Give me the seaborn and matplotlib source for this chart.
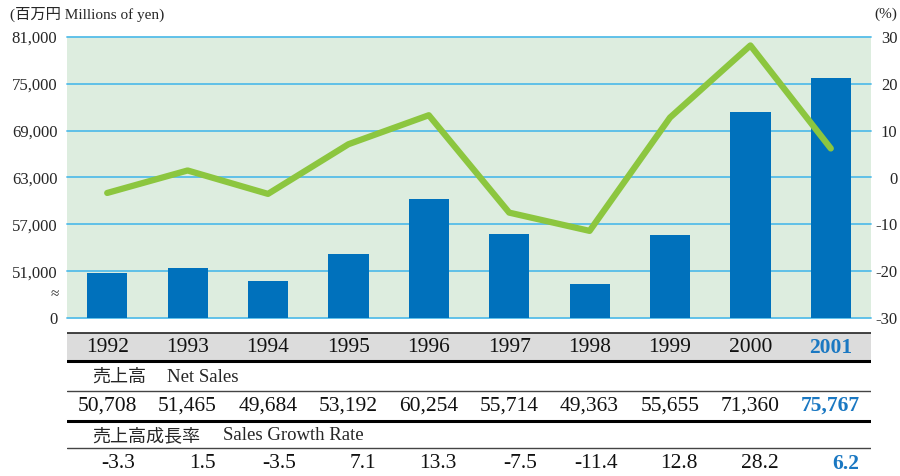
import matplotlib
matplotlib.use("Agg")
import matplotlib.pyplot as plt
import seaborn as sns
import pandas as pd

# データ
years = ["1992", "1993", "1994", "1995", "1996", "1997", "1998", "1999", "2000", "2001"]
net_sales = [50708, 51465, 49684, 53192, 60254, 55714, 49363, 55655, 71360, 75767]
growth = [-3.3, 1.5, -3.5, 7.1, 13.3, -7.5, -11.4, 12.8, 28.2, 6.2]
sales_labels = ["50,708", "51,465", "49,684", "53,192", "60,254", "55,714", "49,363", "55,655", "71,360", "75,767"]
growth_labels = ["-3.3", "1.5", "-3.5", "7.1", "13.3", "-7.5", "-11.4", "12.8", "28.2", "6.2"]
left_ticks = [45000, 51000, 57000, 63000, 69000, 75000, 81000]
left_ticklabels = ["0", "51,000", "57,000", "63,000", "69,000", "75,000", "81,000"]
right_ticks = [-30, -20, -10, 0, 10, 20, 30]

BLUE = "#0071BC"
GREEN = "#8CC63F"
BG = "#DDEDDF"
GRID = "#55BDE8"
HILITE = "#1A78C2"
SERIF = ["Liberation Serif", "DejaVu Serif"]
JP = ["Noto Sans CJK JP", "DejaVu Sans"]

sns.set_theme(style="white")
plt.rcParams["font.family"] = SERIF

df = pd.DataFrame({"year": years, "sales": net_sales, "growth": growth})
# 軸の省略部分: 0 は 45,000 の位置に描く
BASE = 45000
df["bar"] = df["sales"] - BASE

W, H = 900, 476
fig = plt.figure(figsize=(W / 100, H / 100), dpi=100)
x0, x1 = 67, 871
ax = fig.add_axes([x0 / W, 1 - 318 / H, (x1 - x0) / W, (318 - 37) / H])
ax.set_facecolor(BG)

sns.barplot(data=df, x="year", y="bar", bottom=BASE, color=BLUE, width=0.5,
            saturation=1, linewidth=0, ax=ax, zorder=3)
ax.set_xlim(-0.5, 9.5)
ax.set_ylim(BASE, 81000)
ax.set_yticks(left_ticks)
ax.set_yticklabels(left_ticklabels, fontsize=12)
for y in left_ticks:
    ax.axhline(y, color=GRID, lw=1.3, zorder=2, clip_on=False)
ax.text(-0.6, 48000, "≈", ha="right", va="center", fontsize=11, family=SERIF)
ax.set_xticks([i - 0.5 for i in range(11)])
ax.set_xticklabels([])
ax.tick_params(axis="x", direction="in", length=5, color="#8FD3F0", width=1.2)
ax.tick_params(axis="y", length=0, pad=7)
ax.set_xlabel("")
ax.set_ylabel("")
for s in ax.spines.values():
    s.set_visible(False)

ax2 = ax.twinx()
sns.lineplot(x=list(range(len(years))), y=df["growth"], color=GREEN, lw=4.5,
             ax=ax2, zorder=4)
ax2.set_ylim(-30, 30)
ax2.set_yticks(right_ticks)
ax2.set_yticklabels([str(t) for t in right_ticks], fontsize=12, ha="right")
ax2.tick_params(axis="y", length=0, pad=19)
ax2.set_ylabel("")
for s in ax2.spines.values():
    s.set_visible(False)

fig.text(10 / W, 1 - 14 / H, "(百万円 Millions of yen)", fontsize=11,
         va="center", ha="left", family=["Liberation Serif", "Noto Sans CJK JP"])
fig.text(897 / W, 1 - 14 / H, "(%)", fontsize=11, va="center", ha="right")

# 下の表
ty0, ty1 = 325, 476
tab = fig.add_axes([x0 / W, 0, (x1 - x0) / W, (ty1 - ty0) / H])
tab.set_xlim(-0.5, 9.5)
tab.set_ylim(ty1, ty0)
tab.axis("off")
tab.axhspan(333, 361, color="#DCDCDC", lw=0)
tab.axhline(333, color="#222222", lw=1.2)
tab.axhline(361, color="black", lw=2.2)
tab.axhline(391, color="#444444", lw=1.0)
tab.axhline(421, color="black", lw=2.2)
tab.axhline(448, color="#444444", lw=1.0)

for i, (yr, sl, gl) in enumerate(zip(years, sales_labels, growth_labels)):
    last = i == len(years) - 1
    kw = dict(color=HILITE, fontweight="bold") if last else dict(color="#111111")
    tab.text(i, 348, yr, ha="center", va="center", fontsize=15.5, **kw)
    tab.text(i, 406, sl, ha="center", va="center", fontsize=15.5, **kw)
    tab.text(i + 0.35, 464, gl, ha="right", va="center", fontsize=15.5, **kw)

tab.text(-0.18, 377, "売上高", ha="left", va="center", fontsize=13, family=JP)
tab.text(0.74, 377, "Net Sales", ha="left", va="center", fontsize=13.5)
tab.text(-0.18, 436, "売上高成長率", ha="left", va="center", fontsize=13, family=JP)
tab.text(1.44, 436, "Sales Growth Rate", ha="left", va="center", fontsize=13.5)

fig.savefig("out.png", dpi=100)
